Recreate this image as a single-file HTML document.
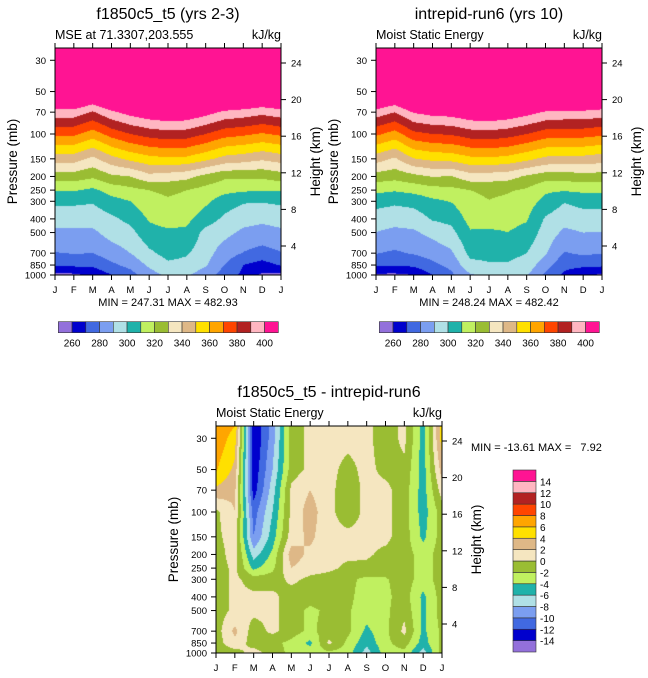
<!DOCTYPE html>
<html><head><meta charset="utf-8">
<style>
html,body{margin:0;padding:0;background:#fff;}
#wrap{position:relative;width:648px;height:678px;overflow:hidden;font-family:"Liberation Sans",Arial,sans-serif;}
canvas{position:absolute;}
svg{position:absolute;left:0;top:0;}
text{font-family:"Liberation Sans",Arial,sans-serif;fill:#000;}
</style></head>
<body>
<div id="wrap">
<canvas id="c1"></canvas>
<canvas id="c2"></canvas>
<canvas id="c3"></canvas>
<svg id="ov" width="648" height="678"></svg>
</div>
<script>
const months = ['J','F','M','A','M','J','J','A','S','O','N','D','J'];
const pLevels = [1000,850,700,500,400,300,250,200,150,100,70,50,30,25];
const pTicks = [30,50,70,100,150,200,250,300,400,500,700,850,1000];
const hTicks = [4,8,12,16,20,24];
const mseLevels = [260,270,280,290,300,310,320,330,340,350,360,370,380,390,400];
const mseTickLabels = [260,280,300,320,340,360,380,400];
const diffLevels = [-14,-12,-10,-8,-6,-4,-2,0,2,4,6,8,10,12,14];
const palette = ['#9370DB','#0000CD','#4169E1','#7B9EF0','#B0E0E6','#20B2AA','#C0F060','#9ABD33','#F5E6C0','#DEB887','#FFE000','#FFA500','#FF4500','#B22222','#FFB6C1','#FF1493'];

// rows follow pLevels, columns follow months
const mseA = [
[257,258,262,270,276,286,292,291,285,275,268,258,257],
[271,272,272,278,283,291.7,298,297,291,280,270,266,271],
[279.5,280.5,280,285,290,298,303.5,301,294,285,279.5,276,279.5],
[288,288,288,294,297,306.5,308,308,296.6,293,288,286.5,288],
[293.8,294,294,298,302.7,311,314.5,312.4,305,298,293.6,292,293.8],
[302,302,301,306.5,310,316.5,318.7,317,312,305,301,300.6,302],
[311,311,308,314,317,320,322,320,316.5,313,311.5,310.5,311],
[325,325,321.7,328,330,337,335,333,327,322,322,322,325],
[344.5,344.5,337.5,346.5,352.5,356.5,358.5,357.5,352.5,346.5,344.5,341.5,344.5],
[372,372,365,374,380,384,386,385,380,374,372,369,372],
[396,396,389,398,404,408,410,409,404,398,396,393,396],
[425,425,418,427,433,437,439,438,433,427,425,422,425],
[460,460,453,462,468,472,474,473,468,462,460,457,460],
[475,475,468,477,483,487,489,488,483,477,475,472,475]];
const mseB = [
[258,258,260,270,278,289,292,291,291,278,268,263,258],
[272,270.7,272,277.7,283,297,299,299,296,284,273,272,272],
[280.4,278.5,281,284,288.5,302.7,303,303,300,291,279.3,281.6,280.4],
[289.8,287.7,288.6,293,297,309,308.3,309.9,306.6,295.6,288,290,289.8],
[295,293.5,294.4,301,303,313.5,314.8,313.5,311,298.7,293.5,295.2,295],
[304,302,303.6,308,310.5,317,319.7,318,314.4,307.3,300.7,303.6,304],
[312.5,311,313,316,317,320,322,321,318.6,311.6,311,312,312.5],
[325.5,323.5,327,330.5,329.5,336,335,334,328.5,324.5,324.5,326,325.5],
[344.5,338.5,349.5,352.5,353.5,357.5,358.5,356.5,352.5,347.5,346.5,346.5,344.5],
[372,366,377,380,381,385,386,384,380,375,374,374,372],
[396,390,401,404,405,409,410,408,404,399,398,398,396],
[425,419,430,433,434,438,439,437,433,428,427,427,425],
[460,454,465,468,469,473,474,472,468,463,462,462,460],
[475,469,480,483,484,488,489,487,483,478,477,477,475]];
const mseDiff = [
[-1,-1,1,-1,-2.5,-3,-2.5,-3,-7,-3,-2.5,-7,-1],
[-1,1.5,-1,-1.5,-2.5,-4.5,0.5,-2.5,-5.5,-2.5,-1,-5,-1.5],
[-1,2.5,-1,0.5,-1,-2.5,-1,-1.5,-4.5,-2.5,0.5,-4.5,-1.5],
[-1,0.5,0.5,0.5,-1,-2.5,-1.5,-1.8,-3,-2.5,-0.5,-4.5,-1],
[-1,0.5,0.5,0.5,-1,-1,-1,-1.5,-3,-2.5,-1,-4.5,-1],
[-1,0.5,-1,-1,0.5,-0.5,-1,-1.5,-2.5,-2.2,-1,-3,-1],
[-1,0.5,-4.5,-2.5,2,1,0.5,-0.5,-0.5,-1,-1,-3,-1],
[-1,1,-7,-3.5,3,1.5,0.5,0.5,0.3,-0.5,-1,-3,-1],
[-0.5,1,-10,-5,1,2.5,0.5,0.5,0.5,0.5,-1,-4.5,-1],
[-0.5,2,-11,-6,0.5,3,0.5,-1,0.5,0.5,-1,-5,-1],
[3.5,2.5,-13,-7,0.5,2,0.5,-1,0.5,0.5,-1,-5,1],
[6.2,3.5,-13.5,-8,-1,0.5,0.5,-0.5,0.5,-0.5,-0.5,-5,3],
[7.5,5,-14,-9,-1,0.5,0.5,0.5,0.5,-1,0.5,-5,5],
[7.5,6,-14,-9,-1,0.5,0.5,0.5,0.5,-1,0.5,-5,5]];

const NS='http://www.w3.org/2000/svg';
const ov=document.getElementById('ov');
function el(tag,attrs,txt){const e=document.createElementNS(NS,tag);for(const k in attrs)e.setAttribute(k,attrs[k]);if(txt!==undefined)e.textContent=txt;ov.appendChild(e);return e;}

function makePanel(x0,y0){
  const w=226,h=227,k=141;
  return {x0:x0,y0:y0,x1:x0+w,y1:y0+h,w:w,h:h,
    xOf:function(i){return x0+i*w/12;},
    yOfP:function(p){return y0+h-k*(3-Math.log10(p));},
    yOfH:function(km){return y0+h-212-(km-24)*9.15;}};
}
function colorIndex(v,levels){let c=0;for(const l of levels){if(v>=l)c++;}return c;}
function hex(c){return [parseInt(c.substr(1,2),16),parseInt(c.substr(3,2),16),parseInt(c.substr(5,2),16)];}
const rgb=palette.map(hex);

function drawField(cid,P,grid,levels){
  const cv=document.getElementById(cid);
  cv.width=P.w;cv.height=P.h;cv.style.left=P.x0+'px';cv.style.top=P.y0+'px';
  const ctx=cv.getContext('2d');const img=ctx.createImageData(P.w,P.h);
  const ly=pLevels.map(p=>P.yOfP(p)-P.y0);
  for(let py=0;py<P.h;py++){
    const yy=py+0.5;let j=0;
    while(j<ly.length-2 && yy<ly[j+1]) j++;
    let t=(ly[j]-yy)/(ly[j]-ly[j+1]);t=Math.max(0,Math.min(1,t));
    for(let px=0;px<P.w;px++){
      const m=(px+0.5)/P.w*12;let i=Math.min(11,Math.floor(m));const s=m-i;
      const a=grid[j][i]*(1-s)+grid[j][i+1]*s;
      const b=grid[j+1][i]*(1-s)+grid[j+1][i+1]*s;
      const v=a*(1-t)+b*t;
      const c=rgb[colorIndex(v,levels)];const o=(py*P.w+px)*4;
      img.data[o]=c[0];img.data[o+1]=c[1];img.data[o+2]=c[2];img.data[o+3]=255;
    }
  }
  ctx.putImageData(img,0,0);
}

function axes(P,name,title,sub,minmax){
  const cx=(P.x0+P.x1)/2;
  const t=el('text',{x:cx,y:P.y0-29,'font-size':16,'text-anchor':'middle'},title);
  
  const s=el('text',{x:P.x0,y:P.y0-9,'font-size':12.5},sub);
  
  const u=el('text',{x:P.x1,y:P.y0-9,'font-size':12.5,'text-anchor':'end'},'kJ/kg');
  
  const fr=el('rect',{x:P.x0,y:P.y0,width:P.w,height:P.h,fill:'none',stroke:'#000','stroke-width':1});
  
  months.forEach((mth,i)=>{
    const x=P.xOf(i);
    el('line',{x1:x,y1:P.y1,x2:x,y2:P.y1+5,stroke:'#000'});
    el('line',{x1:x,y1:P.y0,x2:x,y2:P.y0-5,stroke:'#000'});
    const lb=el('text',{x:x,y:P.y1+18,'font-size':9.5,'text-anchor':'middle'},mth);
    
  });
  pTicks.forEach(p=>{
    const y=P.yOfP(p);
    el('line',{x1:P.x0,y1:y,x2:P.x0-5,y2:y,stroke:'#000'});
    const lb=el('text',{x:P.x0-9,y:y+3.5,'font-size':9.5,'text-anchor':'end'},String(p));
    
  });
  hTicks.forEach(hh=>{
    const y=P.yOfH(hh);
    el('line',{x1:P.x1,y1:y,x2:P.x1+5,y2:y,stroke:'#000'});
    const lb=el('text',{x:P.x1+10,y:y+3.5,'font-size':9.5},String(hh));
    
  });
  const cy=(P.y0+P.y1)/2;
  const yt=el('text',{x:0,y:0,'font-size':13.5,'text-anchor':'middle',transform:'translate('+(P.x0-38)+','+cy+') rotate(-90)'},'Pressure (mb)');
  
  const ht=el('text',{x:0,y:0,'font-size':13.5,'text-anchor':'middle',transform:'translate('+(P.x1+39)+','+cy+') rotate(-90)'},'Height (km)');
  
  if(minmax){
    const mm=el('text',{x:cx,y:P.y1+31,'font-size':11,'text-anchor':'middle'},minmax);
    
  }
}

function hBar(x0,y0,name){
  const bw=13.75;
  palette.forEach((c,i)=>{
    const r=el('rect',{x:x0+i*bw,y:y0,width:bw,height:11,fill:c,stroke:'#333','stroke-width':0.6});
    
  });
  mseLevels.forEach((lv,i)=>{
    if(mseTickLabels.indexOf(lv)<0)return;
    const lb=el('text',{x:x0+(i+1)*bw,y:y0+25,'font-size':10,'text-anchor':'middle'},String(lv));
    
  });
}
function vBar(x0,y0,name){
  const bh=182/16;
  palette.forEach((c,i)=>{
    const r=el('rect',{x:x0,y:y0+(15-i)*bh,width:23,height:bh,fill:c,stroke:'#333','stroke-width':0.6});
    
  });
  diffLevels.forEach((lv,i)=>{
    const lb=el('text',{x:x0+27,y:y0+(15-i)*bh+4,'font-size':10},String(lv));
    
  });
}

const P1=makePanel(55,48), P2=makePanel(376,48), P3=makePanel(216,426);
drawField('c1',P1,mseA,mseLevels);
drawField('c2',P2,mseB,mseLevels);
drawField('c3',P3,mseDiff,diffLevels);
axes(P1,'left-panel','f1850c5_t5 (yrs 2-3)','MSE at 71.3307,203.555','MIN = 247.31 MAX = 482.93');
axes(P2,'right-panel','intrepid-run6 (yrs 10)','Moist Static Energy','MIN = 248.24 MAX = 482.42');
axes(P3,'diff-panel','f1850c5_t5 - intrepid-run6','Moist Static Energy',null);
hBar(58.3,321.7,'left-colorbar');
hBar(379.3,321.7,'right-colorbar');
vBar(513,470,'diff-colorbar');
const mm3=el('text',{x:471,y:451,'font-size':11,style:'white-space:pre'},'MIN = -13.61 MAX =   7.92');


</script>
</body></html>
